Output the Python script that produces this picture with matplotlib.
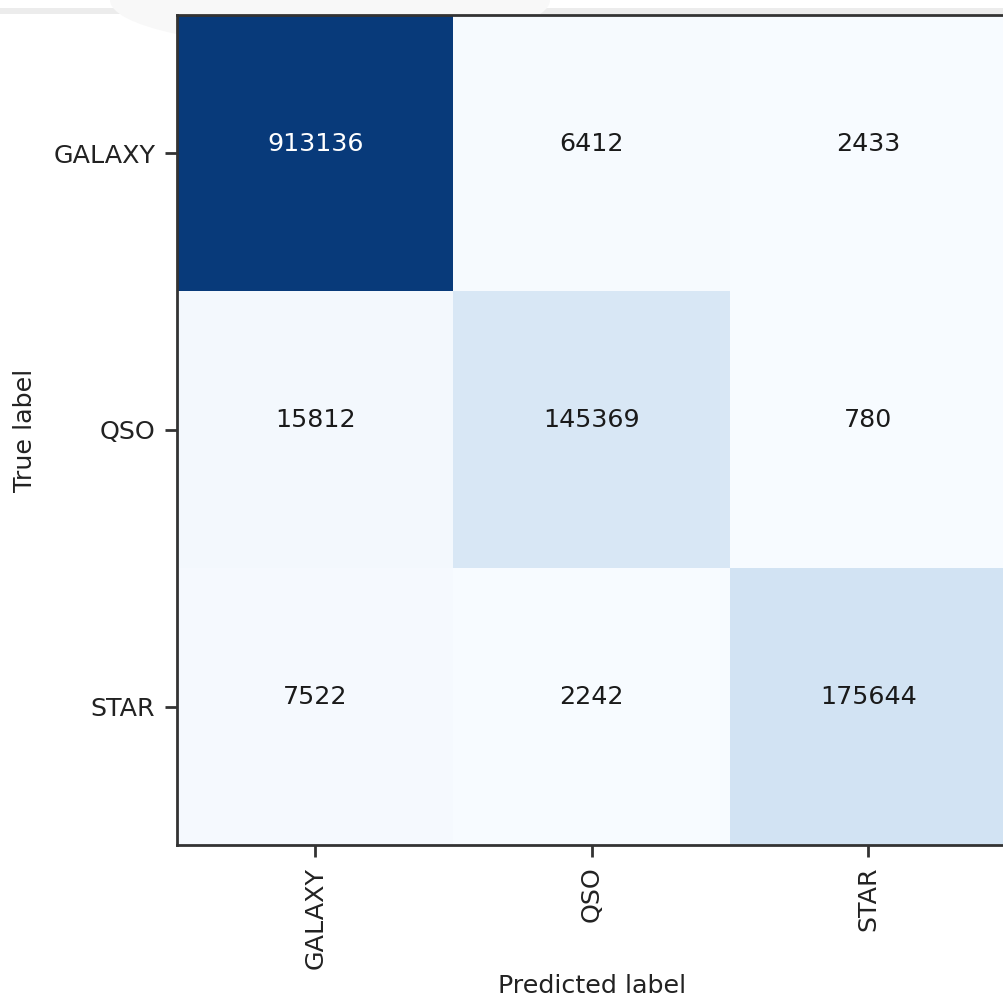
import numpy as np
import matplotlib
matplotlib.use("Agg")
import matplotlib.pyplot as plt
from matplotlib.patches import Rectangle, Ellipse

classes = ["GALAXY", "QSO", "STAR"]
galaxy_row = [913136, 6412, 2433]
qso_row = [15812, 145369, 780]
star_row = [7522, 2242, 175644]

cm = np.array([galaxy_row, qso_row, star_row])

plt.rcParams["font.family"] = "DejaVu Sans"
fs = 18.3

fig = plt.figure(figsize=(10.04, 9.98), dpi=100)

# light window strip along the top edge
fig.patches.append(Rectangle((0, (998 - 14) / 998), 1, 6 / 998,
                             transform=fig.transFigure, facecolor="#ececec",
                             edgecolor="none", zorder=0))
fig.patches.append(Ellipse((330 / 1004, (998 - 0) / 998), 440 / 1004, 95 / 998,
                           transform=fig.transFigure, facecolor="#f8f8f8",
                           edgecolor="none", zorder=0))

ax = fig.add_axes([177 / 1004, (998 - 845) / 998, 829.5 / 1004, 830 / 998])
ax.set_zorder(2)
ax.imshow(cm, interpolation="nearest", cmap=plt.cm.Blues, aspect="auto",
          vmin=0, vmax=cm.max() / 0.96)

thresh = cm.max() / 2.0
for i in range(cm.shape[0]):
    for j in range(cm.shape[1]):
        ax.text(j, i - 0.035, format(cm[i, j], "d"),
                ha="center", va="center", fontsize=fs,
                color="white" if cm[i, j] > thresh else "#1a1a1a")

ax.set_xticks(np.arange(len(classes)))
ax.set_yticks(np.arange(len(classes)))
ax.set_xticklabels(classes, rotation=90, fontsize=fs, color="#222222")
ax.set_yticklabels(classes, fontsize=fs, color="#222222")
ax.tick_params(length=8.5, width=2, color="#333333", pad=7)
for s in ax.spines.values():
    s.set_linewidth(2)
    s.set_color("#333333")

ax.set_ylabel("True label", fontsize=fs, color="#222222", labelpad=12)
ax.set_xlabel("Predicted label", fontsize=fs, color="#222222", labelpad=4)

fig.savefig("out.png", dpi=100)
